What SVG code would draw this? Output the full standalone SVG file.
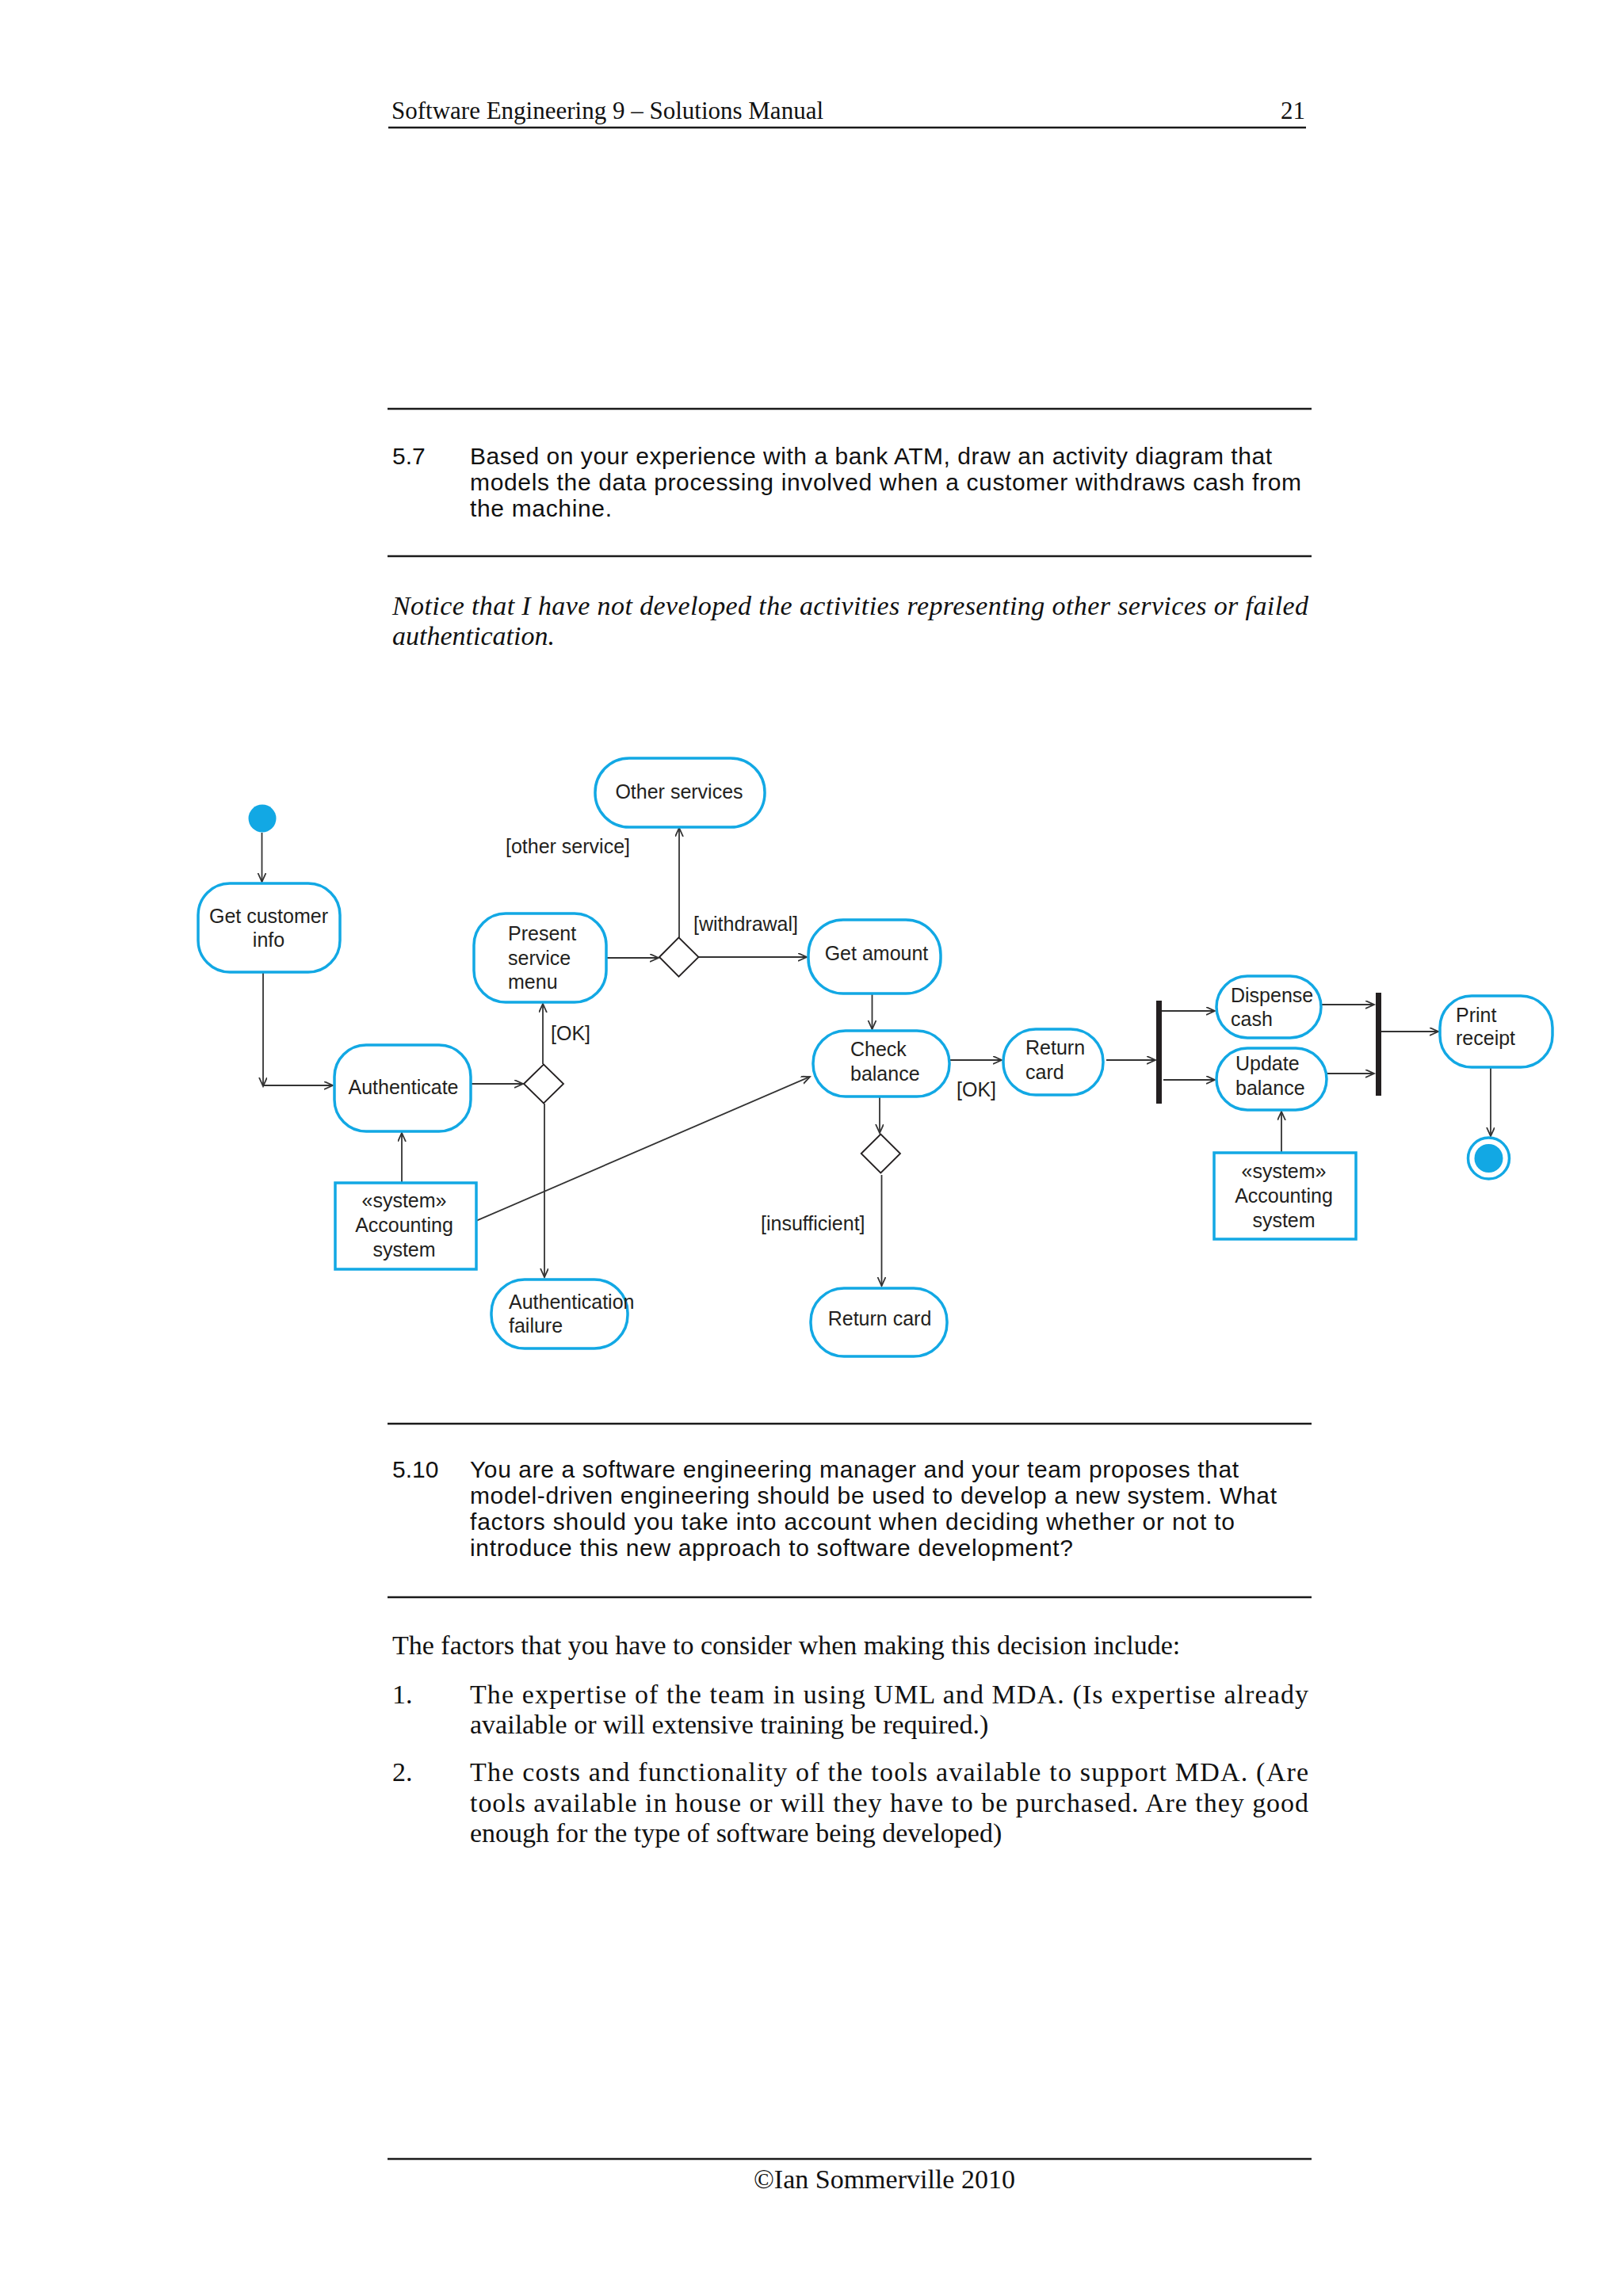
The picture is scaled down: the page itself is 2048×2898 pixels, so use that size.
<svg xmlns="http://www.w3.org/2000/svg" width="2048" height="2898" viewBox="0 0 2048 2898">
<style>
.serif{font-family:"Liberation Serif","Times New Roman",serif;fill:#111;}
.q{font-family:"Liberation Sans",Arial,sans-serif;font-size:30px;fill:#111;}
.lbl{font-family:"Liberation Sans",Arial,sans-serif;font-size:25px;fill:#231f20;}
.act{fill:#fff;stroke:#12a8e4;stroke-width:3.5;}
.dec{fill:#fff;stroke:#231f20;stroke-width:1.8;}
.bar{fill:#231f20;}
.rule{stroke:#1a1a1a;stroke-width:2.5;}
.conn line{stroke:#333;stroke-width:1.8;fill:none;marker-end:url(#arr);}
</style>
<defs>
<marker id="arr" markerUnits="userSpaceOnUse" markerWidth="14" markerHeight="12" refX="11" refY="5" orient="auto">
<path d="M0,0 L11,5 L0,10" fill="none" stroke="#333" stroke-width="1.8"/>
</marker>
</defs>
<rect width="2048" height="2898" fill="#fff"/>

<!-- header -->
<text class="serif" x="494" y="150" font-size="31">Software Engineering 9 – Solutions Manual</text>
<text class="serif" x="1647" y="150" font-size="31" text-anchor="end">21</text>
<line class="rule" x1="490" y1="161" x2="1648" y2="161" stroke-width="2"/>

<!-- question 5.7 -->
<line class="rule" x1="489" y1="516" x2="1655" y2="516"/>
<text class="q" x="495" y="586">5.7</text>
<text class="q" x="593" y="586" textLength="1012" lengthAdjust="spacing">Based on your experience with a bank ATM, draw an activity diagram that</text>
<text class="q" x="593" y="619" textLength="1049" lengthAdjust="spacing">models the data processing involved when a customer withdraws cash from</text>
<text class="q" x="593" y="652" textLength="179" lengthAdjust="spacing">the machine.</text>
<line class="rule" x1="489" y1="702" x2="1655" y2="702"/>

<text class="serif" x="495" y="776" font-size="34" font-style="italic" textLength="1156" lengthAdjust="spacing">Notice that I have not developed the activities representing other services or failed</text>
<text class="serif" x="495" y="814" font-size="34" font-style="italic">authentication.</text>

<!-- connectors -->
<g id="connectors" class="conn">
<line x1="330.5" y1="1051" x2="330.5" y2="1113"/>
<line x1="332" y1="1227" x2="332" y2="1371"/>
<line x1="332" y1="1370" x2="420" y2="1370"/>
<line x1="594" y1="1368" x2="660" y2="1368"/>
<line x1="685" y1="1343" x2="685" y2="1267"/>
<line x1="687" y1="1393" x2="687" y2="1612"/>
<line x1="765" y1="1209" x2="831" y2="1209"/>
<line x1="857" y1="1183" x2="857" y2="1045"/>
<line x1="882" y1="1208" x2="1018" y2="1208"/>
<line x1="1100.5" y1="1254" x2="1100.5" y2="1299"/>
<line x1="601.5" y1="1540.7" x2="1022" y2="1359"/>
<line x1="507" y1="1493" x2="507" y2="1430"/>
<line x1="1199" y1="1338" x2="1264" y2="1338"/>
<line x1="1110" y1="1384" x2="1110" y2="1430"/>
<line x1="1112.5" y1="1483" x2="1112.5" y2="1623"/>
<line x1="1396" y1="1338" x2="1458" y2="1338"/>
<line x1="1466" y1="1276" x2="1533" y2="1276"/>
<line x1="1468" y1="1363" x2="1533" y2="1363"/>
<line x1="1668" y1="1268" x2="1734" y2="1268"/>
<line x1="1674" y1="1355" x2="1734" y2="1355"/>
<line x1="1743" y1="1302" x2="1815" y2="1302"/>
<line x1="1881" y1="1347" x2="1881" y2="1434"/>
<line x1="1617" y1="1455" x2="1617" y2="1403"/>
</g>

<!-- guard labels -->
<g id="guards">
<text class="lbl" x="638" y="1077">[other service]</text>
<text class="lbl" x="875" y="1175">[withdrawal]</text>
<text class="lbl" x="695" y="1313">[OK]</text>
<text class="lbl" x="1207" y="1384">[OK]</text>
<text class="lbl" x="960" y="1553">[insufficient]</text>
</g>

<!-- nodes -->
<g id="start"><circle cx="331" cy="1033" r="17.5" fill="#12a8e4"/></g>

<g id="getCustomerInfo">
<rect class="act" x="250" y="1115" width="179" height="112" rx="40"/>
<text class="lbl" x="339" y="1165" text-anchor="middle">Get customer</text>
<text class="lbl" x="339" y="1195" text-anchor="middle">info</text>
</g>

<g id="authenticate">
<rect class="act" x="422" y="1319" width="172" height="109" rx="40"/>
<text class="lbl" x="509" y="1381" text-anchor="middle">Authenticate</text>
</g>

<g id="accountingSystem1">
<rect class="act" x="423" y="1493" width="178" height="109"/>
<text class="lbl" x="510" y="1524" text-anchor="middle">«system»</text>
<text class="lbl" x="510" y="1555" text-anchor="middle">Accounting</text>
<text class="lbl" x="510" y="1586" text-anchor="middle">system</text>
</g>

<g id="decision1"><polygon class="dec" points="661,1368 686,1343.5 711,1368 686,1392.5"/></g>

<g id="presentServiceMenu">
<rect class="act" x="598" y="1153" width="167" height="112" rx="40"/>
<text class="lbl" x="641" y="1187">Present</text>
<text class="lbl" x="641" y="1218">service</text>
<text class="lbl" x="641" y="1248">menu</text>
</g>

<g id="decision2"><polygon class="dec" points="832,1208 856.5,1183.3 881.5,1208 856.5,1232.7"/></g>

<g id="otherServices">
<rect class="act" x="751" y="957" width="214" height="87" rx="43"/>
<text class="lbl" x="857" y="1008" text-anchor="middle">Other services</text>
</g>

<g id="getAmount">
<rect class="act" x="1020" y="1161" width="167" height="93" rx="44"/>
<text class="lbl" x="1106" y="1212" text-anchor="middle">Get amount</text>
</g>

<g id="checkBalance">
<rect class="act" x="1026" y="1301" width="172" height="83" rx="41"/>
<text class="lbl" x="1073" y="1333">Check</text>
<text class="lbl" x="1073" y="1364">balance</text>
</g>

<g id="returnCard1">
<rect class="act" x="1266" y="1299" width="126" height="83" rx="41"/>
<text class="lbl" x="1294" y="1331">Return</text>
<text class="lbl" x="1294" y="1362">card</text>
</g>

<g id="decision3"><polygon class="dec" points="1086.7,1456 1111.3,1431.5 1136,1456 1111.3,1480.5"/></g>

<g id="returnCard2">
<rect class="act" x="1023" y="1626" width="172" height="86" rx="42"/>
<text class="lbl" x="1110" y="1673" text-anchor="middle">Return card</text>
</g>

<g id="authenticationFailure">
<rect class="act" x="620" y="1615" width="172" height="87" rx="42"/>
<text class="lbl" x="642" y="1652">Authentication</text>
<text class="lbl" x="642" y="1682">failure</text>
</g>

<g id="fork"><rect class="bar" x="1459" y="1263" width="7" height="130"/></g>

<g id="dispenseCash">
<rect class="act" x="1535" y="1232" width="132" height="78" rx="39"/>
<text class="lbl" x="1553" y="1265">Dispense</text>
<text class="lbl" x="1553" y="1295">cash</text>
</g>

<g id="updateBalance">
<rect class="act" x="1535" y="1323" width="139" height="78" rx="39"/>
<text class="lbl" x="1559" y="1351">Update</text>
<text class="lbl" x="1559" y="1382">balance</text>
</g>

<g id="accountingSystem2">
<rect class="act" x="1532" y="1455" width="179" height="109"/>
<text class="lbl" x="1620" y="1487" text-anchor="middle">«system»</text>
<text class="lbl" x="1620" y="1518" text-anchor="middle">Accounting</text>
<text class="lbl" x="1620" y="1549" text-anchor="middle">system</text>
</g>

<g id="join"><rect class="bar" x="1736" y="1253" width="7" height="130"/></g>

<g id="printReceipt">
<rect class="act" x="1817" y="1257" width="142" height="90" rx="40"/>
<text class="lbl" x="1837" y="1290">Print</text>
<text class="lbl" x="1837" y="1319">receipt</text>
</g>

<g id="end">
<circle cx="1878.5" cy="1462" r="26" fill="#fff" stroke="#12a8e4" stroke-width="3.5"/>
<circle cx="1878.5" cy="1462" r="18" fill="#12a8e4"/>
</g>

<!-- question 5.10 -->
<line class="rule" x1="489" y1="1797" x2="1655" y2="1797"/>
<text class="q" x="495" y="1865">5.10</text>
<text class="q" x="593" y="1865" textLength="970" lengthAdjust="spacing">You are a software engineering manager and your team proposes that</text>
<text class="q" x="593" y="1898" textLength="1018" lengthAdjust="spacing">model-driven engineering should be used to develop a new system. What</text>
<text class="q" x="593" y="1931" textLength="965" lengthAdjust="spacing">factors should you take into account when deciding whether or not to</text>
<text class="q" x="593" y="1964" textLength="761" lengthAdjust="spacing">introduce this new approach to software development?</text>
<line class="rule" x1="489" y1="2016" x2="1655" y2="2016"/>

<!-- answer -->
<text class="serif" x="495" y="2088" font-size="34">The factors that you have to consider when making this decision include:</text>
<text class="serif" x="495" y="2150" font-size="34">1.</text>
<text class="serif" x="593" y="2150" font-size="34" textLength="1058" lengthAdjust="spacing">The expertise of the team in using UML and MDA. (Is expertise already</text>
<text class="serif" x="593" y="2188" font-size="34">available or will extensive training be required.)</text>
<text class="serif" x="495" y="2248" font-size="34">2.</text>
<text class="serif" x="593" y="2248" font-size="34" textLength="1058" lengthAdjust="spacing">The costs and functionality of the tools available to support MDA. (Are</text>
<text class="serif" x="593" y="2287" font-size="34" textLength="1058" lengthAdjust="spacing">tools available in house or will they have to be purchased. Are they good</text>
<text class="serif" x="593" y="2325" font-size="34">enough for the type of software being developed)</text>

<!-- footer -->
<line class="rule" x1="489" y1="2725" x2="1655" y2="2725"/>
<text class="serif" x="951" y="2762" font-size="34">©Ian Sommerville 2010</text>
</svg>
